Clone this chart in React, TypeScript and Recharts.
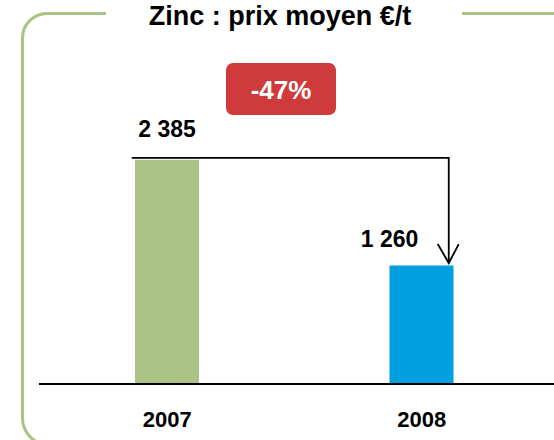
import { BarChart, Bar, Cell, XAxis, YAxis, LabelList, ReferenceLine } from "recharts";

const years = ["2007", "2008"];
const prices = [2385, 1260];
const priceLabels = ["2 385", "1 260"];
const barColors = ["#aac385", "#009fe0"];
const changeLabel = "-47%";
const chartTitle = "Zinc : prix moyen €/t";

const data = years.map((year, i) => ({ year, price: prices[i], label: priceLabels[i] }));

const FONT = '"Liberation Sans", Arial, sans-serif';
const FRAME = "#aac385";

function YearTick({ x, y, payload }: any) {
  return (
    <text x={x} y={y + 43} textAnchor="middle" fontFamily={FONT} fontWeight="bold" fontSize={22} fill="#000">
      {payload.value}
    </text>
  );
}

function ValueLabel({ x, y, width, value, index }: any) {
  // second label is pushed left so the arrow does not cross it
  const cx = x + width / 2 + (index === 1 ? -32 : 0);
  const dy = index === 1 ? -19 : -23;
  return (
    <text x={cx} y={y + dy} textAnchor="middle" fontFamily={FONT} fontWeight="bold" fontSize={23} fill="#000">
      {value}
    </text>
  );
}

function DropArrow({ x1, y1, x2, y2 }: any) {
  const top = y1 - 2;
  const left = x1 - 35.5;
  const right = x2 + 27;
  const tip = y2 - 2.5;
  return (
    <g fill="none" stroke="#000" strokeWidth={1.8}>
      <path d={`M${left},${top} H${right} V${tip}`} />
      <path d={`M${right - 11},${tip - 19} L${right},${tip} L${right + 10},${tip - 19}`} />
    </g>
  );
}

export default function App() {
  return (
    <div style={{ position: "absolute", left: 0, top: 0, width: 554, height: 440, background: "#fff", overflow: "hidden" }}>
      <svg width={554} height={440} style={{ position: "absolute", left: 0, top: 0 }}>
        {/* rounded frame, open at the top for the title */}
        <path
          d="M106,13.5 H47 A24.5,24.5 0 0 0 22.5,38 V418 A27,27 0 0 0 49.5,445"
          fill="none"
          stroke={FRAME}
          strokeWidth={3}
        />
        <path d="M462,13.5 H560" fill="none" stroke={FRAME} strokeWidth={3} />
        <text x={280} y={25} textAnchor="middle" fontFamily={FONT} fontWeight="bold" fontSize={27} fill="#000">
          {chartTitle}
        </text>
        <rect x={226} y={63} width={110} height={52} rx={7} fill="#cf3a3c" />
        <text x={281} y={99} textAnchor="middle" fontFamily={FONT} fontWeight="bold" fontSize={26} fill="#fff">
          {changeLabel}
        </text>
      </svg>
      <div style={{ position: "absolute", left: 0, top: 0 }}>
        <BarChart width={554} height={440} data={data} margin={{ top: 102, right: 0, bottom: 0, left: 39 }}>
          <XAxis
            dataKey="year"
            height={56}
            padding={{ left: 1, right: 5 }}
            axisLine={{ stroke: "#000", strokeWidth: 2 }}
            tickLine={false}
            tickSize={0}
            tickMargin={0}
            tick={<YearTick />}
            interval={0}
          />
          <YAxis hide domain={[0, 3000]} />
          <Bar dataKey="price" barSize={64} isAnimationActive={false}>
            {data.map((d, i) => (
              <Cell key={d.year} fill={barColors[i]} />
            ))}
            <LabelList dataKey="label" content={<ValueLabel />} />
          </Bar>
          <ReferenceLine
            segment={[
              { x: years[0], y: prices[0] },
              { x: years[1], y: prices[1] },
            ]}
            ifOverflow="visible"
            shape={<DropArrow />}
          />
        </BarChart>
      </div>
    </div>
  );
}
